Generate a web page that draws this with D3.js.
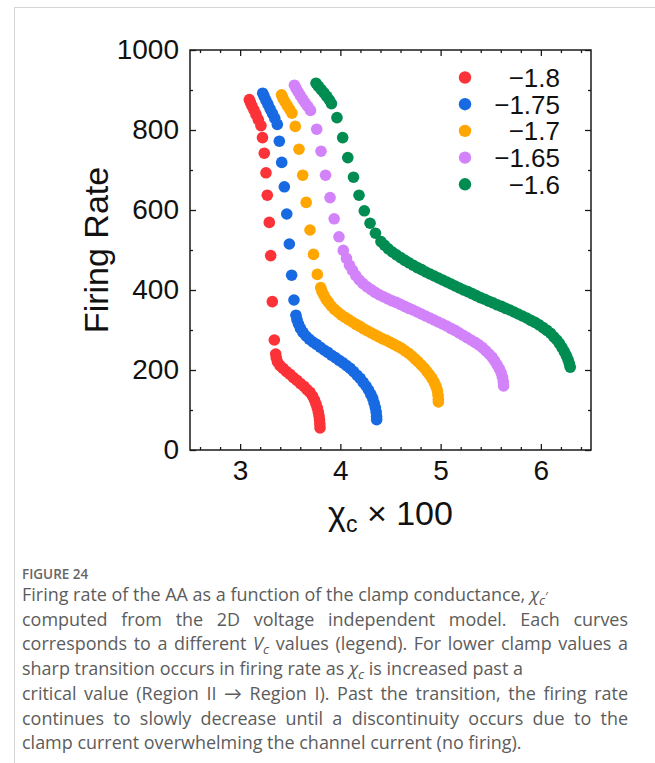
<!DOCTYPE html>
<html>
<head>
<meta charset="utf-8">
<script src="https://cdn.jsdelivr.net/npm/d3@7"></script>
<style>
  html, body { margin: 0; padding: 0; background: #ffffff; }
  svg { display: block; }
</style>
</head>
<body>
<svg id="fig" width="655" height="763"></svg>
<script>
// Clamp voltage of each curve (legend entries)
const clampVoltages = ["\u22121.8", "\u22121.75", "\u22121.7", "\u22121.65", "\u22121.6"];

// Vc = -1.8
const chi_180 = [3.092,3.103,3.118,3.138,3.158,3.181,3.208,3.223,3.241,3.258,3.271,3.291,3.305,3.321,3.341,
  3.355,3.361,3.373,3.398,3.428,3.463,3.498,3.532,3.567,3.602,3.637,3.667,3.697,3.722,3.742,3.757,3.770,3.780,3.787,3.792,3.795,3.797];
const rate_180 = [876,869,860,850,839,826,811,781,742,693,637,569,486,371,275,
  240,230,220,211,204,196,189,181,174,166,159,151,144,135,125,115,105,95,85,75,65,55];

// Vc = -1.75
const chi_175 = [3.225,3.240,3.258,3.278,3.300,3.323,3.346,3.371,3.391,3.415,3.441,3.465,3.491,3.514,3.537,
  3.557,3.567,3.582,3.602,3.627,3.657,3.690,3.725,3.762,3.799,3.837,3.875,3.912,3.950,3.988,4.026,4.062,4.098,4.132,4.166,
  4.198,4.228,4.256,4.281,4.304,4.323,4.337,4.349,4.357,4.361,4.362];
const rate_175 = [892,884,874,864,852,841,829,814,772,719,658,590,515,437,375,
  337,326,315,304,294,285,277,270,264,257,250,244,237,231,224,218,211,204,196,187,
  179,169,160,150,139,129,117,106,95,84,76];

// Vc = -1.7
const chi_170 = [3.413,3.428,3.448,3.470,3.493,3.517,3.550,3.587,3.624,3.659,3.697,3.732,3.770,
  3.804,3.817,3.835,3.857,3.882,3.909,3.940,3.973,4.008,4.044,4.081,4.118,4.156,4.194,4.232,4.270,4.307,4.345,4.383,4.421,
  4.459,4.497,4.535,4.573,4.610,4.645,4.680,4.713,4.744,4.774,4.806,4.836,4.864,4.890,4.914,4.936,4.954,4.967,4.974,4.977,4.978];
const rate_170 = [888,879,870,861,852,842,809,752,687,619,550,489,439,
  406,396,387,377,369,360,352,345,338,332,326,320,314,309,303,298,293,288,283,278,
  274,269,264,259,254,248,242,235,228,221,213,205,196,188,179,169,159,149,137,126,120];

// Vc = -1.65
const chi_165 = [3.542,3.559,3.579,3.601,3.624,3.649,3.675,3.702,3.764,3.807,3.852,3.897,3.938,3.986,
  4.029,4.061,4.091,4.121,4.154,4.189,4.226,4.266,4.306,4.347,4.389,4.431,4.473,4.515,4.557,4.599,4.641,4.683,4.724,4.766,
  4.808,4.850,4.892,4.934,4.976,5.018,5.060,5.102,5.143,5.183,5.223,5.263,5.303,5.343,5.381,5.417,5.451,5.483,5.513,5.539,
  5.563,5.586,5.604,5.617,5.625,5.628];
const rate_165 = [912,904,895,886,877,868,859,849,802,747,687,631,578,533,
  499,479,462,449,436,425,416,408,401,394,388,383,378,373,369,364,359,354,350,345,
  340,335,330,325,320,315,310,304,299,293,287,281,275,269,263,256,248,240,232,223,
  213,203,193,182,171,160];

// Vc = -1.6
const chi_160 = [3.757,3.782,3.809,3.837,3.865,3.890,3.911,3.966,4.023,4.074,4.131,4.186,4.239,4.296,4.350,
  4.405,4.440,4.478,4.518,4.559,4.601,4.643,4.685,4.726,4.768,4.810,4.852,4.894,4.936,4.978,5.020,5.062,5.104,5.145,5.187,
  5.229,5.271,5.313,5.355,5.397,5.439,5.481,5.522,5.564,5.606,5.648,5.690,5.732,5.774,5.816,5.858,5.900,5.941,5.982,6.022,
  6.060,6.096,6.129,6.159,6.186,6.211,6.234,6.254,6.271,6.284,6.293];
const rate_160 = [917,909,901,893,884,875,866,831,781,731,682,637,598,567,542,
  521,512,503,495,488,481,474,468,462,456,451,445,440,435,430,425,420,415,410,405,
  400,396,391,386,381,377,372,368,363,359,354,350,345,340,335,330,324,319,313,306,
  299,292,283,275,266,256,246,236,226,216,207];

// Axis ticks
const xTicks = [3, 4, 5, 6];
const xMinorTicks = [2.6,2.8,3.2,3.4,3.6,3.8,4.2,4.4,4.6,4.8,5.2,5.4,5.6,5.8,6.2,6.4];
const yTicks = [0, 200, 400, 600, 800, 1000];
const yMinorTicks = [100, 300, 500, 700, 900];

const seriesColors = ["#fb3237", "#176ae2", "#ffa600", "#d383fa", "#018c52"];

const chiSeries = [chi_180, chi_175, chi_170, chi_165, chi_160];
const rateSeries = [rate_180, rate_175, rate_170, rate_165, rate_160];

const series = clampVoltages.map((label, i) => ({
  label,
  color: seriesColors[i],
  points: chiSeries[i].map((x, j) => ({ x, y: rateSeries[i][j] }))
}));

const svg = d3.select("#fig");
const sansChart = "'Liberation Sans', Arial, Helvetica, sans-serif";
const sansCaption = "'Open Sans', Lato, sans-serif";

// page border lines
svg.append("line").attr("x1", 14).attr("x2", 655).attr("y1", 7.5).attr("y2", 7.5)
  .attr("stroke", "#d4d4d4").attr("stroke-width", 1);
svg.append("line").attr("x1", 14.5).attr("x2", 14.5).attr("y1", 7).attr("y2", 763)
  .attr("stroke", "#d4d4d4").attr("stroke-width", 1);

const plot = { left: 190, right: 591, top: 50, bottom: 450 };
const x = d3.scaleLinear().domain([2.5, 6.5]).range([plot.left, plot.right]);
const y = d3.scaleLinear().domain([0, 1000]).range([plot.bottom, plot.top]);

const tickFont = 28;
const axisColor = "#1a1a1a";

function styleAxis(g, withText) {
  g.select(".domain").remove();
  g.selectAll(".tick line").attr("stroke", axisColor).attr("stroke-width", 1.3);
  if (withText) {
    g.selectAll(".tick text").attr("fill", "#111").attr("font-size", tickFont)
      .attr("font-family", sansChart);
  } else {
    g.selectAll(".tick text").remove();
  }
}

// bottom axis: labelled majors + minors, ticks pointing inwards
svg.append("g").attr("transform", `translate(0,${plot.bottom})`)
  .call(d3.axisBottom(x).tickValues(xTicks).tickSize(-6).tickPadding(10).tickFormat(d3.format("d")))
  .call(g => styleAxis(g, true));
svg.append("g").attr("transform", `translate(0,${plot.bottom})`)
  .call(d3.axisBottom(x).tickValues(xMinorTicks).tickSize(-3))
  .call(g => styleAxis(g, false));
// top mirror
svg.append("g").attr("transform", `translate(0,${plot.top})`)
  .call(d3.axisTop(x).tickValues(xTicks).tickSize(-6))
  .call(g => styleAxis(g, false));
svg.append("g").attr("transform", `translate(0,${plot.top})`)
  .call(d3.axisTop(x).tickValues(xMinorTicks).tickSize(-3))
  .call(g => styleAxis(g, false));

// left axis
svg.append("g").attr("transform", `translate(${plot.left},0)`)
  .call(d3.axisLeft(y).tickValues(yTicks).tickSize(-6).tickPadding(11).tickFormat(d3.format("d")))
  .call(g => styleAxis(g, true));
svg.append("g").attr("transform", `translate(${plot.left},0)`)
  .call(d3.axisLeft(y).tickValues(yMinorTicks).tickSize(-3))
  .call(g => styleAxis(g, false));
// right mirror
svg.append("g").attr("transform", `translate(${plot.right},0)`)
  .call(d3.axisRight(y).tickValues(yTicks).tickSize(-6))
  .call(g => styleAxis(g, false));
svg.append("g").attr("transform", `translate(${plot.right},0)`)
  .call(d3.axisRight(y).tickValues(yMinorTicks).tickSize(-3))
  .call(g => styleAxis(g, false));

// frame
svg.append("rect")
  .attr("x", plot.left).attr("y", plot.top)
  .attr("width", plot.right - plot.left).attr("height", plot.bottom - plot.top)
  .attr("fill", "none").attr("stroke", axisColor).attr("stroke-width", 1.5);

// data points
const dotR = 5.8;
series.forEach(s => {
  svg.append("g").selectAll("circle").data(s.points).join("circle")
    .attr("cx", d => x(d.x)).attr("cy", d => y(d.y)).attr("r", dotR)
    .attr("fill", s.color);
});

// legend
const legendFont = 26;
const legend = svg.append("g").attr("font-family", sansChart);
series.forEach((s, i) => {
  const cy = 77.5 + i * 26.7;
  legend.append("circle").attr("cx", 465).attr("cy", cy).attr("r", 6.2).attr("fill", s.color);
  legend.append("text").attr("x", 560).attr("y", cy).attr("dy", "0.36em")
    .attr("text-anchor", "end").attr("font-size", legendFont).attr("fill", "#111").text(s.label);
});

// axis titles
svg.append("text")
  .attr("transform", "translate(108,250) rotate(-90)")
  .attr("text-anchor", "middle").attr("font-family", sansChart)
  .attr("font-size", 34).attr("fill", "#111").text("Firing Rate");

const xTitle = svg.append("text")
  .attr("x", (plot.left + plot.right) / 2).attr("y", 525)
  .attr("text-anchor", "middle").attr("font-family", sansChart)
  .attr("font-size", 34).attr("fill", "#111");
xTitle.append("tspan").text("\u03C7");
xTitle.append("tspan").attr("font-size", 23).attr("dy", 7).text("c");
xTitle.append("tspan").attr("dy", -7).text(" \u00D7 100");

// caption
const capColor = "#5c5c5c";
svg.append("text").attr("x", 22).attr("y", 579)
  .attr("font-family", sansCaption).attr("font-weight", 600).attr("font-size", 13.5)
  .attr("fill", "#666").text("FIGURE 24");

const capLines = [
  [{ t: "Firing rate of the AA as a function of the clamp conductance, " }, { t: "\u03C7", i: true }, { t: "c", i: true, sub: true }, { t: "\u2032", up: true }],
  [{ t: "computed from the 2D voltage independent model. Each curves" }],
  [{ t: "corresponds to a different " }, { t: "V", i: true }, { t: "c", i: true, sub: true }, { t: " values (legend). For lower clamp values a", back: true }],
  [{ t: "sharp transition occurs in firing rate as " }, { t: "\u03C7", i: true }, { t: "c", i: true, sub: true }, { t: " is increased past a", back: true }],
  [{ t: "critical value (Region II \u2192 Region I). Past the transition, the firing rate" }],
  [{ t: "continues to slowly decrease until a discontinuity occurs due to the" }],
  [{ t: "clamp current overwhelming the channel current (no firing)." }]
];
const justified = [false, true, true, false, true, true, false];
const capLeft = 22, capWidth = 606;

// size the caption font so the last (unjustified) line runs to x = 522
const probe = svg.append("text").attr("font-family", sansCaption).attr("font-size", 16)
  .text(capLines[6][0].t);
const capSize = 16 * 500 / probe.node().getComputedTextLength();
probe.remove();

capLines.forEach((parts, li) => {
  const t = svg.append("text").attr("x", capLeft).attr("y", 601 + li * 24.7)
    .attr("font-family", sansCaption).attr("font-size", capSize).attr("fill", capColor);
  parts.forEach(p => {
    const ts = t.append("tspan").text(p.t);
    if (p.i) ts.attr("font-style", "italic");
    if (p.sub) ts.attr("font-size", capSize * 0.75).attr("dy", 3.5);
    if (p.back) ts.attr("dy", -3.5);
    if (p.up) ts.attr("font-size", capSize * 0.7).attr("dy", -3.5);
  });
  // justify full lines by widening the word gaps
  if (justified[li]) {
    const natural = t.node().getComputedTextLength();
    const gaps = parts.map(p => p.t).join("").split(" ").length - 1;
    if (gaps > 0 && natural < capWidth) {
      t.attr("word-spacing", (capWidth - natural) / gaps);
    }
  }
});
</script>
</body>
</html>
